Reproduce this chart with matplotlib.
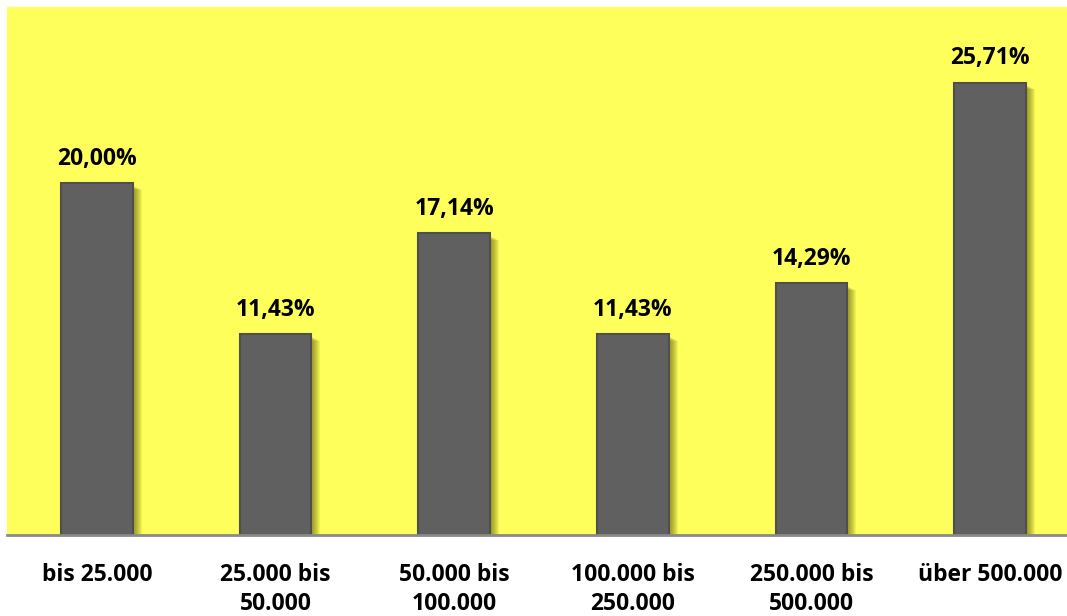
import matplotlib.pyplot as plt
import numpy as np

categories = ["bis 25.000", "25.000 bis\n50.000", "50.000 bis\n100.000",
              "100.000 bis\n250.000", "250.000 bis\n500.000", "über 500.000"]
values = [20.00, 11.43, 17.14, 11.43, 14.29, 25.71]
value_labels = ["20,00%", "11,43%", "17,14%", "11,43%", "14,29%", "25,71%"]

plt.rcParams['font.family'] = ['Open Sans', 'DejaVu Sans']

fig = plt.figure(figsize=(10.67, 6.16), dpi=100)
ax = fig.add_axes([7 / 1067, 1 - 535 / 616, 1 - 7 / 1067, 528 / 616])
ax.set_facecolor("#FFFF5C")

x = np.arange(len(categories))
width = 0.40
px = 1 / 178.6  # one pixel in x data units

# soft shadow on the right side of each bar
for k in range(9):
    off = (k + 1) * px
    ax.bar(x + off, np.array(values) - k * 0.03, width=width, bottom=-0.15,
           color="#5a5a00", alpha=0.09, linewidth=0, zorder=1)

ax.bar(x, values, width=width, color="#606060", edgecolor="#4f4f4f",
       linewidth=1.5, zorder=2)

for xi, v, lab in zip(x, values, value_labels):
    ax.text(xi, v + 0.7, lab, ha="center", va="bottom", fontsize=16.5,
            fontweight="bold", color="black")

ax.set_xlim(-0.504, 5.431)
ax.set_ylim(0, 30)
ax.set_yticks([])
ax.set_xticks(x)
ax.set_xticklabels(categories, fontsize=16.5, fontweight="bold",
                   linespacing=1.3)
ax.tick_params(axis="x", length=0, pad=20)
for s in ["top", "right", "left"]:
    ax.spines[s].set_visible(False)
ax.spines["bottom"].set_color("#8a8a8a")
ax.spines["bottom"].set_linewidth(2)
ax.spines["bottom"].set_zorder(3)

fig.savefig("out.png", dpi=100)
